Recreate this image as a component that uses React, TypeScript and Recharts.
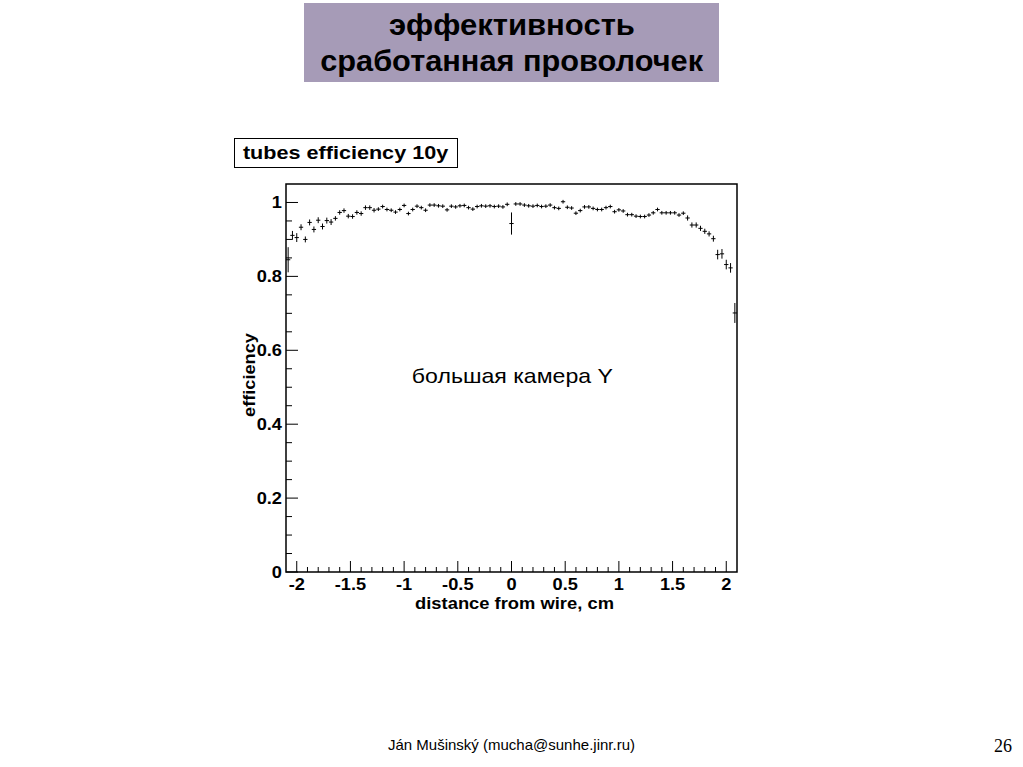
import { ScatterChart, Scatter, XAxis, YAxis, ErrorBar, ReferenceArea } from 'recharts';

// bin centres, cm (bin width 0.04)
const binCenters = [
  -2.08, -2.04, -2.0, -1.96, -1.92, -1.88, -1.84, -1.8, -1.76, -1.72, -1.68, -1.64, -1.6, -1.56, -1.52,
  -1.48, -1.44, -1.4, -1.36, -1.32, -1.28, -1.24, -1.2, -1.16, -1.12, -1.08, -1.04, -1.0, -0.96, -0.92,
  -0.88, -0.84, -0.8, -0.76, -0.72, -0.68, -0.64, -0.6, -0.56, -0.52, -0.48, -0.44, -0.4, -0.36, -0.32,
  -0.28, -0.24, -0.2, -0.16, -0.12, -0.08, -0.04, 0.0, 0.04, 0.08, 0.12, 0.16, 0.2, 0.24, 0.28,
  0.32, 0.36, 0.4, 0.44, 0.48, 0.52, 0.56, 0.6, 0.64, 0.68, 0.72, 0.76, 0.8, 0.84, 0.88,
  0.92, 0.96, 1.0, 1.04, 1.08, 1.12, 1.16, 1.2, 1.24, 1.28, 1.32, 1.36, 1.4, 1.44, 1.48,
  1.52, 1.56, 1.6, 1.64, 1.68, 1.72, 1.76, 1.8, 1.84, 1.88, 1.92, 1.96, 2.0, 2.04, 2.08,
];

const efficiency = [
  0.845, 0.911, 0.905, 0.933, 0.9, 0.946, 0.927, 0.952, 0.935, 0.951, 0.947, 0.957, 0.973, 0.978, 0.963,
  0.962, 0.973, 0.97, 0.986, 0.986, 0.979, 0.982, 0.989, 0.981, 0.979, 0.974, 0.981, 0.992, 0.97, 0.981,
  0.99, 0.986, 0.979, 0.993, 0.993, 0.991, 0.99, 0.98, 0.99, 0.988, 0.991, 0.992, 0.986, 0.982, 0.989,
  0.991, 0.99, 0.991, 0.989, 0.99, 0.988, 0.995, 0.943, 0.996, 0.996, 0.993, 0.991, 0.99, 0.992, 0.989,
  0.99, 0.993, 0.986, 0.984, 1.002, 0.987, 0.985, 0.971, 0.978, 0.988, 0.988, 0.984, 0.981, 0.981, 0.986,
  0.989, 0.975, 0.98, 0.977, 0.967, 0.967, 0.963, 0.962, 0.962, 0.966, 0.972, 0.981, 0.972, 0.972, 0.972,
  0.972, 0.966, 0.971, 0.958, 0.939, 0.939, 0.93, 0.922, 0.915, 0.902, 0.859, 0.861, 0.832, 0.823, 0.701,
];

const efficiencyErr = [
  0.034, 0.012, 0.012, 0.008, 0.008, 0.008, 0.008, 0.008, 0.008, 0.008, 0.008, 0.006, 0.006, 0.006, 0.006,
  0.006, 0.006, 0.006, 0.006, 0.006, 0.006, 0.005, 0.005, 0.005, 0.005, 0.005, 0.005, 0.005, 0.005, 0.005,
  0.005, 0.005, 0.005, 0.005, 0.005, 0.005, 0.005, 0.005, 0.005, 0.005, 0.005, 0.005, 0.005, 0.005, 0.005,
  0.005, 0.005, 0.005, 0.005, 0.005, 0.005, 0.005, 0.03, 0.005, 0.005, 0.005, 0.005, 0.005, 0.005, 0.005,
  0.005, 0.005, 0.005, 0.005, 0.005, 0.005, 0.005, 0.005, 0.005, 0.005, 0.005, 0.005, 0.005, 0.005, 0.005,
  0.005, 0.005, 0.005, 0.005, 0.005, 0.005, 0.005, 0.005, 0.005, 0.005, 0.005, 0.005, 0.005, 0.005, 0.005,
  0.005, 0.005, 0.005, 0.007, 0.007, 0.007, 0.007, 0.007, 0.007, 0.008, 0.013, 0.013, 0.013, 0.013, 0.027,
];

const halfBin = 0.02;

const xTicks = [
  -2.0, -1.9, -1.8, -1.7, -1.6, -1.5, -1.4, -1.3, -1.2, -1.1, -1.0, -0.9, -0.8, -0.7, -0.6, -0.5, -0.4,
  -0.3, -0.2, -0.1, 0, 0.1, 0.2, 0.3, 0.4, 0.5, 0.6, 0.7, 0.8, 0.9, 1.0, 1.1, 1.2, 1.3, 1.4, 1.5, 1.6,
  1.7, 1.8, 1.9, 2.0,
];
const xMajor = [-2, -1.5, -1, -0.5, 0, 0.5, 1, 1.5, 2];
const yTicks = [
  0, 0.05, 0.1, 0.15, 0.2, 0.25, 0.3, 0.35, 0.4, 0.45, 0.5, 0.55, 0.6, 0.65, 0.7, 0.75, 0.8, 0.85, 0.9,
  0.95, 1.0,
];
const yMajor = [0, 0.2, 0.4, 0.6, 0.8, 1];

const points = binCenters.map((x, i) => ({ x, y: efficiency[i], ey: efficiencyErr[i], ex: halfBin }));

const FONT = '"Liberation Sans", Arial, Helvetica, sans-serif';
const isMajor = (v: number, list: number[]) => list.some((m) => Math.abs(m - v) < 1e-6);

function XTick({ x, y, payload }: any) {
  const major = isMajor(payload.value, xMajor);
  return (
    <g>
      <line x1={x} x2={x} y1={y} y2={y - (major ? 11 : 5)} stroke="#000" strokeWidth={1} />
      {major && (
        <text transform={`translate(${x} ${y + 18}) scale(1.14 1)`} textAnchor="middle" fontFamily={FONT} fontWeight="bold" fontSize={16} fill="#000">
          {payload.value}
        </text>
      )}
    </g>
  );
}

function YTick({ x, y, payload }: any) {
  const major = isMajor(payload.value, yMajor);
  return (
    <g>
      <line x1={x} x2={x + (major ? 12 : 6)} y1={y} y2={y} stroke="#000" strokeWidth={1} />
      {major && (
        <text transform={`translate(${x - 4} ${y + 6}) scale(1.14 1)`} textAnchor="end" fontFamily={FONT} fontWeight="bold" fontSize={16} fill="#000">
          {payload.value}
        </text>
      )}
    </g>
  );
}

export default function App() {
  return (
    <div style={{ position: 'absolute', left: 0, top: 0, width: 1023, height: 767, background: '#fff', fontFamily: FONT, overflow: 'hidden' }}>
      <div style={{ position: 'absolute', left: 0, top: 0 }}>
        <ScatterChart width={1023} height={767} margin={{ top: 184, right: 286, bottom: 145, left: 236 }}>
          <XAxis
            type="number"
            dataKey="x"
            domain={[-2.1, 2.1]}
            allowDataOverflow
            ticks={xTicks}
            interval={0}
            height={50}
            axisLine={false}
            tickLine={false}
            tickSize={0}
            tickMargin={0}
            tick={<XTick />}
            label={{
              content: ({ viewBox }: any) => (
                <text transform={`translate(${viewBox.x + viewBox.width / 2 + 3} ${viewBox.y + 37}) scale(1.08 1)`} textAnchor="middle" fontFamily={FONT} fontWeight="bold" fontSize={17} fill="#000">
                  distance from wire, cm
                </text>
              ),
            }}
          />
          <YAxis
            type="number"
            dataKey="y"
            domain={[0, 1.05]}
            allowDataOverflow
            ticks={yTicks}
            interval={0}
            width={50}
            axisLine={false}
            tickLine={false}
            tickSize={0}
            tickMargin={0}
            tick={<YTick />}
            label={{
              content: ({ viewBox }: any) => {
                const cx = viewBox.x + 13;
                const cy = viewBox.y + viewBox.height / 2 - 3;
                return (
                  <text transform={`translate(${cx} ${cy}) rotate(-90) scale(1.07 1)`} textAnchor="middle" dominantBaseline="central" fontFamily={FONT} fontWeight="bold" fontSize={17} fill="#000">
                    efficiency
                  </text>
                );
              },
            }}
          />
          <ReferenceArea x1={-2.1} x2={2.1} y1={0} y2={1.05} fill="none" stroke="#000" strokeWidth={1.5} ifOverflow="visible" />
          <Scatter data={points} fill="#000" shape={() => <g />} isAnimationActive={false}>
            <ErrorBar dataKey="ey" direction="y" width={0} stroke="#000" strokeWidth={1} isAnimationActive={false} />
            <ErrorBar dataKey="ex" direction="x" width={0} stroke="#000" strokeWidth={1} isAnimationActive={false} />
          </Scatter>
        </ScatterChart>
      </div>

      <div
        style={{
          position: 'absolute', left: 304, top: 3, width: 415, height: 79, background: '#a69bb7',
          display: 'flex', flexDirection: 'column', justifyContent: 'center', alignItems: 'center',
          fontWeight: 'bold', fontSize: 29, lineHeight: '36px', color: '#000',
        }}
      >
        <div style={{ transform: 'scaleX(1.07)' }}>эффективность</div>
        <div style={{ transform: 'scaleX(1.06)' }}>сработанная проволочек</div>
      </div>

      <div
        style={{
          position: 'absolute', left: 234, top: 138, width: 222, height: 28, border: '1px solid #000',
          background: '#fff', display: 'flex', alignItems: 'center', justifyContent: 'center',
          fontWeight: 'bold', fontSize: 18, color: '#000',
        }}
      >
        <span style={{ display: 'inline-block', transform: 'scaleX(1.2)' }}>tubes efficiency 10y</span>
      </div>

      <div style={{ position: 'absolute', left: 0, width: 1023, top: 364, textAlign: 'center', fontSize: 21, color: '#000' }}>
        <span style={{ display: 'inline-block', marginLeft: 2, transform: 'scaleX(1.1)' }}>большая камера Y</span>
      </div>

      <div style={{ position: 'absolute', left: 0, width: 1023, top: 736, textAlign: 'center', fontSize: 15, color: '#000' }}>
        Ján Mušinský (mucha@sunhe.jinr.ru)
      </div>

      <div style={{ position: 'absolute', left: 994, top: 736, fontFamily: '"Liberation Serif", "Times New Roman", serif', fontSize: 18, color: '#000' }}>
        26
      </div>
    </div>
  );
}
